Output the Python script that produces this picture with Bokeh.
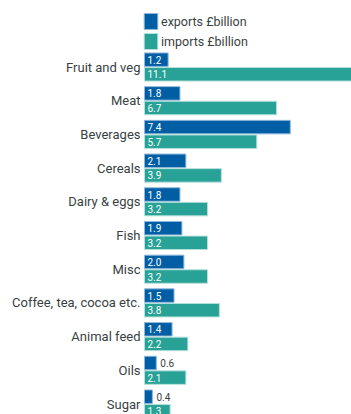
from bokeh.plotting import figure
from bokeh.models import ColumnDataSource, Range1d, Legend, LegendItem
from bokeh.core.properties import value
from bokeh.embed import file_html
from bokeh.resources import INLINE

categories = ["Fruit and veg", "Meat", "Beverages", "Cereals", "Dairy & eggs", "Fish",
              "Misc", "Coffee, tea, cocoa etc.", "Animal feed", "Oils", "Sugar"]
exports = [1.2, 1.8, 7.4, 2.1, 1.8, 1.9, 2.0, 1.5, 1.4, 0.6, 0.4]
imports = [11.1, 6.7, 5.7, 3.9, 3.2, 3.2, 3.2, 3.8, 2.2, 2.1, 1.3]
series_names = ["exports £billion", "imports £billion"]

BLUE = "#005ea5"
TEAL = "#28a197"
TEXT = "#383f43"
FONT = "Roboto"

W, H = 351, 414
PX_PER_UNIT = 19.7      # horizontal scale
LEFT_PX = 144           # pixel where zero sits
ROW_PX = 33.7           # row pitch
FIRST_ROW_PX = 66.5     # centre of first row
OFF = 7.3 / ROW_PX      # half-offset of the two bars in a row
BAR_H = 13.5 / ROW_PX

idx = list(range(len(categories)))
thresh = 1.0

def make_src(vals, sign):
    return ColumnDataSource(dict(
        y=[i + sign * OFF for i in idx], v=vals,
        lab=[f"{v:.1f}" for v in vals],
        lx=[0 if v >= thresh else v for v in vals],
        col=["white" if v >= thresh else TEXT for v in vals],
        xo=[3 if v >= thresh else 4 for v in vals],
    ))

src_exp = make_src(exports, -1)
src_imp = make_src(imports, +1)
src_cat = ColumnDataSource(dict(y=idx, name=categories))

x0 = -LEFT_PX / PX_PER_UNIT
x1 = (W - LEFT_PX) / PX_PER_UNIT
y_top = -FIRST_ROW_PX / ROW_PX
y_bot = (H - FIRST_ROW_PX) / ROW_PX

p = figure(width=W, height=H, output_backend="svg", toolbar_location=None,
           x_range=Range1d(x0, x1), y_range=Range1d(y_bot, y_top),
           min_border=0, outline_line_color=None)
p.axis.visible = False
p.grid.visible = False
p.background_fill_color = "white"
p.border_fill_color = "white"

r_exp = p.hbar(y="y", left=0, right="v", height=BAR_H, source=src_exp,
               fill_color=BLUE, line_color="#8fb8d9", line_width=1)
r_imp = p.hbar(y="y", left=0, right="v", height=BAR_H, source=src_imp,
               fill_color=TEAL, line_color="#b5e0db", line_width=1)

for s in (src_exp, src_imp):
    p.text(x="lx", y="y", text="lab", source=s, text_color="col",
           x_offset="xo", text_font=value(FONT), text_font_size="10px",
           text_baseline="middle", text_align="left")

p.text(x=0, y="y", text="name", source=src_cat, x_offset=-4,
       text_font=value(FONT), text_font_size="13px", text_color=TEXT,
       text_baseline="middle", text_align="right")

legend = Legend(items=[LegendItem(label=series_names[0], renderers=[r_exp]),
                       LegendItem(label=series_names[1], renderers=[r_imp])],
                location=(LEFT_PX - 2, H - 51), orientation="vertical",
                glyph_width=17, glyph_height=20, label_height=20,
                spacing=0, padding=0, margin=0, label_standoff=2,
                label_text_font=FONT, label_text_font_size="12.5px",
                label_text_color=TEXT, border_line_color=None,
                background_fill_alpha=0)
p.add_layout(legend, "center")

open("out.html", "w").write(file_html(p, INLINE))
